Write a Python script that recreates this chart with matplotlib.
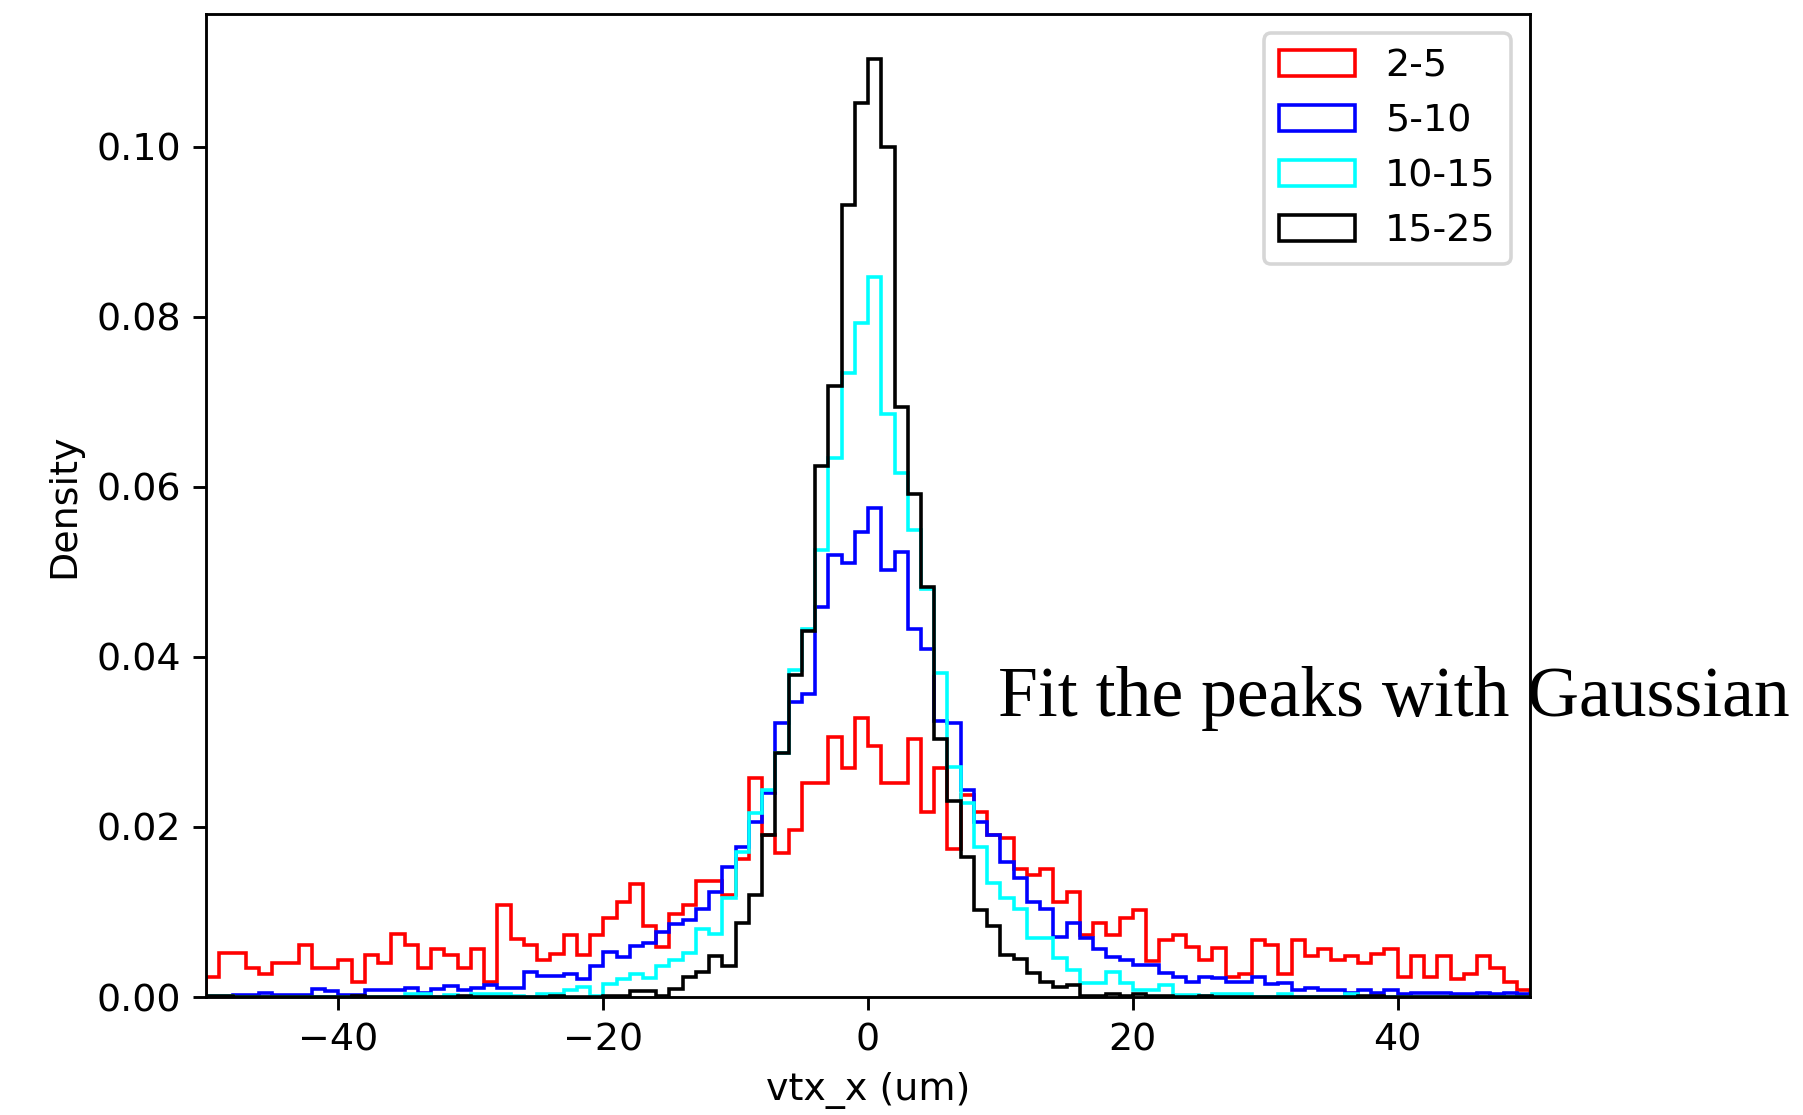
import numpy as np
import matplotlib
matplotlib.use("Agg")
import matplotlib.pyplot as plt

plt.rcParams["font.size"] = 10.6

# bin edges: 1 um bins from -50 to 50
edges = np.arange(-50, 51, 1)
centers = edges[:-1] + 0.5

labels = ["2-5", "5-10", "10-15", "15-25"]
colors = ["red", "blue", "cyan", "black"]

# density per bin (bins -50 .. 49)
dens_2_5 = [
    0.0024, 0.0052, 0.0052, 0.0034, 0.0027, 0.0040, 0.0040, 0.0061, 0.0034, 0.0034,
    0.0044, 0.0018, 0.0049, 0.0040, 0.0074, 0.0061, 0.0034, 0.0057, 0.0049, 0.0034,
    0.0057, 0.0018, 0.0108, 0.0068, 0.0061, 0.0044, 0.0051, 0.0073, 0.0049, 0.0073,
    0.0093, 0.0112, 0.0133, 0.0083, 0.0059, 0.0098, 0.0108, 0.0136, 0.0136, 0.0120,
    0.0162, 0.0258, 0.0191, 0.0169, 0.0196, 0.0252, 0.0252, 0.0306, 0.0269, 0.0328,
    0.0295, 0.0252, 0.0252, 0.0303, 0.0218, 0.0269, 0.0174, 0.0238, 0.0218, 0.0190,
    0.0187, 0.0151, 0.0144, 0.0151, 0.0112, 0.0124, 0.0073, 0.0087, 0.0073, 0.0093,
    0.0102, 0.0042, 0.0067, 0.0073, 0.0059, 0.0043, 0.0058, 0.0024, 0.0027, 0.0067,
    0.0061, 0.0027, 0.0067, 0.0048, 0.0057, 0.0044, 0.0048, 0.0040, 0.0051, 0.0057,
    0.0024, 0.0048, 0.0024, 0.0048, 0.0021, 0.0027, 0.0048, 0.0034, 0.0018, 0.0008,
]
dens_5_10 = [
    0.0000, 0.0000, 0.0002, 0.0002, 0.0005, 0.0002, 0.0002, 0.0002, 0.0010, 0.0007,
    0.0002, 0.0002, 0.0008, 0.0008, 0.0008, 0.0011, 0.0005, 0.0009, 0.0013, 0.0008,
    0.0011, 0.0014, 0.0011, 0.0011, 0.0030, 0.0025, 0.0025, 0.0027, 0.0021, 0.0036,
    0.0053, 0.0047, 0.0060, 0.0064, 0.0077, 0.0086, 0.0091, 0.0104, 0.0124, 0.0153,
    0.0177, 0.0206, 0.0240, 0.0322, 0.0347, 0.0356, 0.0459, 0.0520, 0.0510, 0.0547,
    0.0575, 0.0502, 0.0523, 0.0433, 0.0409, 0.0325, 0.0322, 0.0244, 0.0206, 0.0190,
    0.0159, 0.0140, 0.0112, 0.0104, 0.0071, 0.0087, 0.0070, 0.0057, 0.0047, 0.0044,
    0.0038, 0.0038, 0.0028, 0.0024, 0.0018, 0.0024, 0.0022, 0.0018, 0.0018, 0.0023,
    0.0015, 0.0017, 0.0008, 0.0011, 0.0008, 0.0008, 0.0005, 0.0008, 0.0005, 0.0008,
    0.0003, 0.0005, 0.0005, 0.0005, 0.0003, 0.0003, 0.0005, 0.0003, 0.0005, 0.0003,
]
dens_10_15 = [
    0.0001, 0.0001, 0.0000, 0.0000, 0.0000, 0.0000, 0.0000, 0.0000, 0.0000, 0.0000,
    0.0000, 0.0000, 0.0000, 0.0000, 0.0000, 0.0003, 0.0003, 0.0000, 0.0002, 0.0000,
    0.0004, 0.0004, 0.0004, 0.0001, 0.0000, 0.0003, 0.0003, 0.0008, 0.0012, 0.0001,
    0.0015, 0.0021, 0.0027, 0.0022, 0.0036, 0.0044, 0.0052, 0.0080, 0.0074, 0.0117,
    0.0171, 0.0216, 0.0244, 0.0287, 0.0385, 0.0433, 0.0526, 0.0634, 0.0734, 0.0793,
    0.0847, 0.0686, 0.0616, 0.0549, 0.0480, 0.0381, 0.0271, 0.0228, 0.0177, 0.0134,
    0.0116, 0.0104, 0.0069, 0.0069, 0.0046, 0.0032, 0.0016, 0.0016, 0.0029, 0.0016,
    0.0008, 0.0008, 0.0014, 0.0002, 0.0002, 0.0001, 0.0003, 0.0003, 0.0003, 0.0000,
    0.0000, 0.0003, 0.0000, 0.0000, 0.0000, 0.0000, 0.0003, 0.0000, 0.0000, 0.0000,
    0.0000, 0.0000, 0.0000, 0.0000, 0.0000, 0.0000, 0.0000, 0.0000, 0.0000, 0.0000,
]
dens_15_25 = [
    0.0001, 0.0001, 0.0000, 0.0000, 0.0000, 0.0000, 0.0000, 0.0000, 0.0000, 0.0000,
    0.0000, 0.0001, 0.0000, 0.0000, 0.0000, 0.0000, 0.0000, 0.0000, 0.0000, 0.0001,
    0.0000, 0.0000, 0.0000, 0.0000, 0.0000, 0.0000, 0.0001, 0.0000, 0.0000, 0.0000,
    0.0001, 0.0001, 0.0007, 0.0007, 0.0001, 0.0010, 0.0024, 0.0030, 0.0048, 0.0036,
    0.0087, 0.0120, 0.0191, 0.0287, 0.0379, 0.0430, 0.0624, 0.0718, 0.0932, 0.1051,
    0.1103, 0.1000, 0.0694, 0.0592, 0.0482, 0.0304, 0.0230, 0.0165, 0.0102, 0.0083,
    0.0049, 0.0045, 0.0028, 0.0018, 0.0012, 0.0014, 0.0001, 0.0001, 0.0004, 0.0001,
    0.0004, 0.0001, 0.0001, 0.0000, 0.0000, 0.0001, 0.0000, 0.0000, 0.0000, 0.0000,
    0.0000, 0.0000, 0.0000, 0.0000, 0.0000, 0.0000, 0.0000, 0.0001, 0.0001, 0.0000,
    0.0000, 0.0000, 0.0000, 0.0000, 0.0000, 0.0000, 0.0000, 0.0000, 0.0000, 0.0000,
]
series = [dens_2_5, dens_5_10, dens_10_15, dens_15_25]

dpi = 258
fig = plt.figure(figsize=(1803 / dpi, 1115 / dpi), dpi=dpi)
ax = fig.add_axes([0.1143, 0.1058, 0.7343, 0.8816])

for vals, col, lab in zip(series, colors, labels):
    ax.hist(centers, bins=edges, weights=vals, histtype="step", color=col, label=lab)

ax.set_xlim(-50, 50)
ax.set_ylim(0, 0.1156)
ax.set_xticks([-40, -20, 0, 20, 40])
ax.set_yticks([0.0, 0.02, 0.04, 0.06, 0.08, 0.10])
ax.set_xlabel("vtx_x (um)")
ax.set_ylabel("Density")
ax.legend(loc="upper right")

# note pasted over the figure
fig.text(0.5535, 1 - 716 / 1115, "Fit the peaks with Gaussian",
         family="Liberation Serif", fontsize=20, va="baseline", ha="left")

fig.savefig("out.png", dpi=dpi)
